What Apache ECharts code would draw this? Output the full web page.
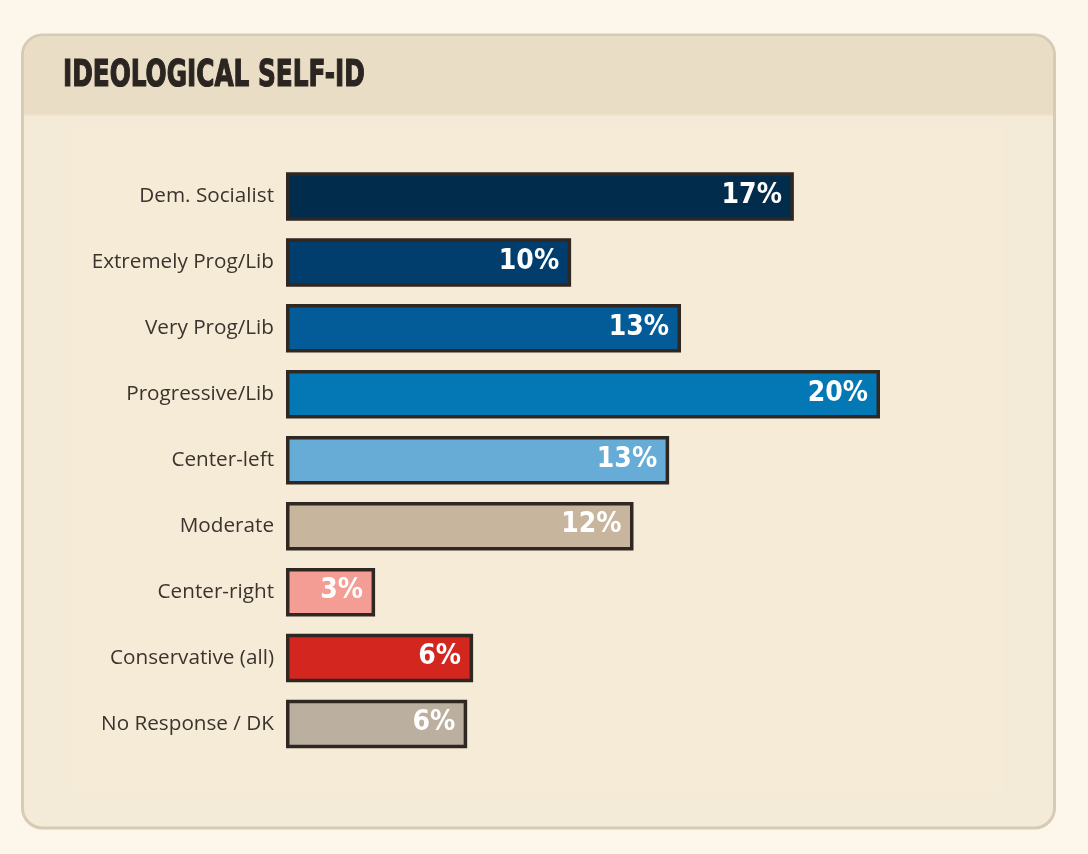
<!DOCTYPE html>
<html>
<head>
<meta charset="utf-8">
<script src="https://cdn.jsdelivr.net/npm/echarts@6/dist/echarts.min.js"></script>
<style>
  html, body { margin: 0; padding: 0; background: #fdf6ea; }
  #chart { width: 1088px; height: 854px; }
</style>
</head>
<body>
<div id="chart"></div>
<script>
const titleText = 'IDEOLOGICAL SELF-ID';
const categories = ['Dem. Socialist', 'Extremely Prog/Lib', 'Very Prog/Lib', 'Progressive/Lib',
  'Center-left', 'Moderate', 'Center-right', 'Conservative (all)', 'No Response / DK'];
const values = [17.1, 9.6, 13.3, 20.0, 12.9, 11.7, 3.0, 6.3, 6.1];
const barColors = ['#012c4c', '#013d6d', '#035b98', '#0378b4', '#66acd6',
  '#c7b59e', '#f49d94', '#d2261f', '#bbaf9f'];

const chart = echarts.init(document.getElementById('chart'));

const option = {
  backgroundColor: '#fdf6ea',
  animation: false,
  graphic: [
    // card body + border
    {type: 'rect', z: 0, silent: true,
      shape: {x: 22.5, y: 35, width: 1032, height: 793, r: 20},
      style: {fill: '#f3ead8', stroke: '#d8cbb5', lineWidth: 3}},
    // header band
    {type: 'rect', z: 0, silent: true,
      shape: {x: 24, y: 36.5, width: 1029, height: 78.5, r: [18.5, 18.5, 0, 0]},
      style: {fill: '#e9ddc5'}},
    {type: 'rect', z: 0, silent: true,
      shape: {x: 24, y: 114.5, width: 1029, height: 1.5},
      style: {fill: '#efe4cf'}},
    // inner panel
    {type: 'rect', z: 0, silent: true,
      shape: {x: 72, y: 126, width: 930, height: 666},
      style: {fill: '#f6ebd6'}},
    // title
    {type: 'text', z: 1, silent: true, x: 63, y: 76, scaleX: 0.725, scaleY: 1,
      style: {text: titleText, x: 0, y: 0, fill: '#2b2521',
        stroke: '#2b2521', lineWidth: 1.2,
        font: 'bold 38px "DejaVu Sans Condensed"',
        textAlign: 'left', textVerticalAlign: 'middle'}}
  ],
  grid: {left: 286, right: 208, top: 163.5, bottom: 97, containLabel: false},
  xAxis: {type: 'value', min: 0, max: 20, show: false},
  yAxis: {
    type: 'category',
    data: categories,
    inverse: true,
    axisLine: {show: false},
    axisTick: {show: false},
    splitLine: {show: false},
    axisLabel: {
      margin: 12,
      color: '#3b342e',
      fontFamily: '"Open Sans"',
      fontSize: 20.7
    }
  },
  series: [{
    type: 'bar',
    barWidth: 48.5,
    data: values.map((v, i) => ({
      value: v,
      itemStyle: {color: barColors[i]}
    })),
    itemStyle: {borderColor: '#2e2722', borderWidth: 3.5},
    label: {
      show: true,
      position: 'insideRight',
      distance: 12,
      offset: [0, -1],
      color: '#ffffff',
      fontFamily: '"DejaVu Sans Condensed"',
      fontWeight: 'bold',
      fontSize: 28,
      formatter: p => Math.round(p.value) + '%'
    }
  }]
};

chart.setOption(option);
</script>
</body>
</html>
